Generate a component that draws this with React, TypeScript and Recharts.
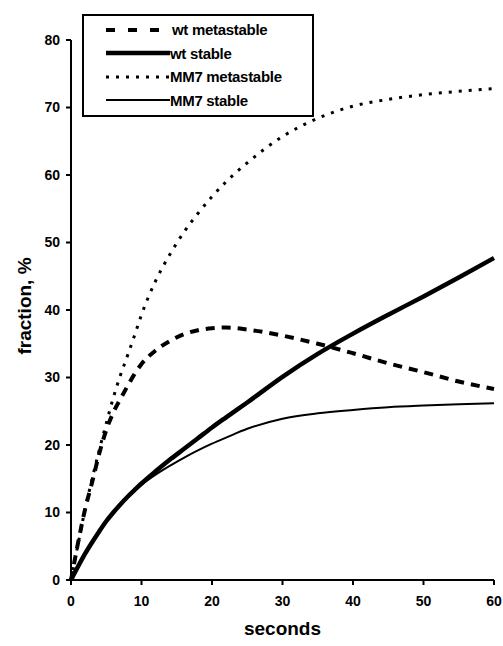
import React from "react";
import { LineChart, Line, XAxis, YAxis, Legend } from "recharts";

// time points (s) shared by all four series
const seconds = [0, 1, 2, 3, 4, 5, 6, 7, 8, 9, 10, 12, 14, 16, 18, 20, 22, 25, 30, 35, 40, 45, 50, 55, 60];

// fraction, %
const wtMetastable = [0, 5.5, 10.5, 14.5, 18.7, 22.2, 24.8, 26.8, 28.7, 30.5, 32, 34, 35.4, 36.4, 37, 37.3, 37.4, 37.1, 36.2, 35, 33.6, 32.1, 30.8, 29.4, 28.3];
const wtStable = [0, 2, 3.9, 5.6, 7.2, 8.7, 10, 11.2, 12.3, 13.3, 14.3, 16.1, 17.8, 19.4, 21, 22.6, 24.1, 26.3, 30.1, 33.5, 36.5, 39.3, 42, 44.8, 47.7];
const mm7Metastable = [0, 5.3, 10.5, 15, 19.2, 23.2, 27, 30.3, 33.2, 36.2, 39.3, 44.3, 48.2, 51.5, 54.3, 56.8, 59, 61.8, 65.7, 68.4, 70.2, 71.2, 71.9, 72.4, 72.8];
const mm7Stable = [0, 2, 3.9, 5.6, 7.2, 8.7, 10, 11.2, 12.2, 13.2, 14.1, 15.6, 16.9, 18.1, 19.2, 20.2, 21.1, 22.4, 23.9, 24.7, 25.2, 25.6, 25.85, 26.05, 26.2];

const xTicks = [0, 10, 20, 30, 40, 50, 60];
const yTicks = [0, 10, 20, 30, 40, 50, 60, 70, 80];

const data = seconds.map((t, i) => ({
  t,
  wtMeta: wtMetastable[i],
  wtStab: wtStable[i],
  mmMeta: mm7Metastable[i],
  mmStab: mm7Stable[i],
}));

const LINES = [
  { key: "wtMeta", name: "wt metastable", width: 4, dash: "9 7", legendDash: "9 13" },
  { key: "wtStab", name: "wt stable", width: 4.5, dash: undefined, legendDash: undefined },
  { key: "mmMeta", name: "MM7 metastable", width: 3, dash: "3 7", legendDash: "3 7" },
  { key: "mmStab", name: "MM7 stable", width: 2, dash: undefined, legendDash: undefined },
];

const FONT = "'Liberation Sans', Arial, sans-serif";
const tickStyle = { fill: "#000", fontSize: 14, fontWeight: "bold", fontFamily: FONT };

const renderLegend = () => (
  <div
    style={{
      position: "relative",
      width: 232,
      height: 103,
      border: "2px solid #000",
      boxSizing: "border-box",
      background: "#fff",
      fontFamily: FONT,
      fontWeight: "bold",
      fontSize: 15,
      color: "#000",
    }}
  >
    {LINES.map((l, i) => (
      <div
        key={l.key}
        style={{ position: "absolute", left: 22, top: 2 + i * 23.6, height: 23, display: "flex", alignItems: "center", whiteSpace: "nowrap" }}
      >
        <svg width={64} height={10} style={{ display: "block" }}>
          <line x1={0} y1={5} x2={64} y2={5} stroke="#000" strokeWidth={l.width} strokeDasharray={l.legendDash} />
        </svg>
        <span style={{ marginLeft: i === 0 ? 2 : 0, letterSpacing: -0.3 }}>{l.name}</span>
      </div>
    ))}
  </div>
);

export default function App() {
  return (
    <div style={{ position: "absolute", left: 0, top: 0, width: 503, height: 646, background: "#fff" }}>
      <LineChart
        width={503}
        height={646}
        data={data}
        margin={{ top: 40, right: 9, bottom: 0, left: 0 }}
        style={{ fontFamily: FONT }}
      >
        <XAxis
          dataKey="t"
          type="number"
          domain={[0, 60]}
          ticks={xTicks}
          interval={0}
          height={66}
          stroke="#000"
          strokeWidth={2}
          tickSize={5}
          tickMargin={11}
          tick={tickStyle}
          label={{
            content: ({ viewBox }: any) => (
              <text
                x={viewBox.x + viewBox.width / 2}
                y={viewBox.y + 55}
                textAnchor="middle"
                fontSize={19}
                fontWeight="bold"
                fontFamily={FONT}
                fill="#000"
              >
                seconds
              </text>
            ),
          }}
        />
        <YAxis
          type="number"
          domain={[0, 80]}
          ticks={yTicks}
          interval={0}
          width={71}
          stroke="#000"
          strokeWidth={2}
          tickSize={5}
          tickMargin={6}
          tick={tickStyle}
          label={{
            content: ({ viewBox }: any) => {
              const cx = 31;
              const cy = viewBox.y + viewBox.height / 2 - 4;
              return (
                <text
                  x={cx}
                  y={cy}
                  transform={`rotate(-90, ${cx}, ${cy})`}
                  textAnchor="middle"
                  fontSize={19}
                  fontWeight="bold"
                  fontFamily={FONT}
                  fill="#000"
                >
                  fraction, %
                </text>
              );
            },
          }}
        />
        <Legend
          layout="vertical"
          align="center"
          verticalAlign="middle"
          content={renderLegend}
          wrapperStyle={{ position: "absolute", left: 82, top: 14, width: 232, height: 103 }}
        />
        {LINES.map((l) => (
          <Line
            key={l.key}
            dataKey={l.key}
            name={l.name}
            type="monotone"
            stroke="#000"
            strokeWidth={l.width}
            strokeDasharray={l.dash}
            dot={false}
            activeDot={false}
            isAnimationActive={false}
          />
        ))}
      </LineChart>
    </div>
  );
}
